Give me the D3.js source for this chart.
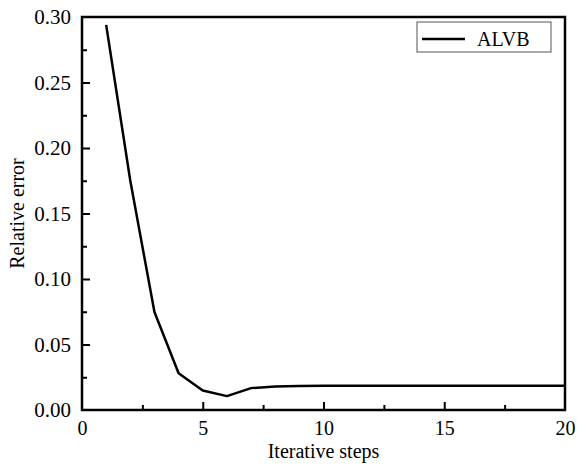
<!DOCTYPE html>
<html>
<head>
<meta charset="utf-8">
<script src="https://cdn.jsdelivr.net/npm/d3@7"></script>
<style>
  body { margin: 0; background: #fff; }
  svg text { font-family: "Liberation Serif", "Times New Roman", serif; fill: #000; }
</style>
</head>
<body>
<div id="chart"></div>
<script>
// values
var steps = [1, 2, 3, 4, 5, 6, 7, 8, 9, 10, 11, 12, 13, 14, 15, 16, 17, 18, 19, 20];
var relError = [0.294, 0.175, 0.0748, 0.0281, 0.0149, 0.0106, 0.0167, 0.0180, 0.0184, 0.0186,
  0.0186, 0.0186, 0.0186, 0.0186, 0.0186, 0.0186, 0.0186, 0.0186, 0.0186, 0.0186];
var xTicks = [0, 5, 10, 15, 20];
var yTicks = [0.00, 0.05, 0.10, 0.15, 0.20, 0.25, 0.30];
var seriesName = "ALVB";

var serif = "Liberation Serif, Times New Roman, serif";
var svgWidth = 577, svgHeight = 467;
var margin = {top: 17, right: 12, bottom: 57, left: 82};
var width = svgWidth - margin.left - margin.right;
var height = svgHeight - margin.top - margin.bottom;

var svg = d3.select("#chart").append("svg")
  .attr("width", svgWidth)
  .attr("height", svgHeight)
  .attr("font-family", serif);

var chartGroup = svg.append("g")
  .attr("transform", `translate(${margin.left}, ${margin.top})`);

var x = d3.scaleLinear().domain([0, 20]).range([0, width]);
var y = d3.scaleLinear().domain([0, 0.30]).range([height, 0]);

// minor ticks (inward)
var xMinor = d3.range(0, 20.01, 2.5).filter(d => d % 5 !== 0);
var yMinor = d3.range(0, 0.301, 0.025).filter(d => Math.round(d * 1000) % 50 !== 0);

var bottomAxis = d3.axisBottom(x).tickValues(xTicks).tickSize(-8).tickPadding(11)
  .tickFormat(d3.format("d"));
var leftAxis = d3.axisLeft(y).tickValues(yTicks).tickSize(-8).tickPadding(11)
  .tickFormat(d3.format(".2f"));

var xAxis = chartGroup.append("g")
  .attr("transform", `translate(0, ${height})`)
  .call(bottomAxis)
  .attr("font-family", serif)
  .attr("font-size", 20);
xAxis.selectAll(".tick")
  .filter(d => d === 0 || d === 20)
  .select("line").remove();

var yAxis = chartGroup.append("g")
  .call(leftAxis)
  .attr("font-family", serif)
  .attr("font-size", 21);
yAxis.selectAll(".tick")
  .filter(d => d === 0 || d === 0.30)
  .select("line").remove();

chartGroup.append("g")
  .attr("transform", `translate(0, ${height})`)
  .call(d3.axisBottom(x).tickValues(xMinor).tickSize(-5).tickFormat(""))
  .select(".domain").remove();
chartGroup.append("g")
  .call(d3.axisLeft(y).tickValues(yMinor).tickSize(-5).tickFormat(""))
  .select(".domain").remove();

chartGroup.selectAll(".domain").remove();
chartGroup.selectAll(".tick line").attr("stroke", "#000").attr("stroke-width", 2);
chartGroup.selectAll(".tick text").attr("fill", "#000");

// frame
chartGroup.append("rect")
  .attr("width", width)
  .attr("height", height)
  .attr("fill", "none")
  .attr("stroke", "#000")
  .attr("stroke-width", 2.5);

var line = d3.line()
  .x((d, i) => x(steps[i]))
  .y(d => y(d));

chartGroup.append("path")
  .datum(relError)
  .attr("d", line)
  .attr("fill", "none")
  .attr("stroke", "#000")
  .attr("stroke-width", 2.5)
  .attr("stroke-linejoin", "round");

// legend
var legend = svg.append("g").attr("transform", "translate(417, 22)");
legend.append("rect")
  .attr("width", 134)
  .attr("height", 30)
  .attr("fill", "#fff")
  .attr("stroke", "#555")
  .attr("stroke-width", 1);
legend.append("line")
  .attr("x1", 5).attr("x2", 48)
  .attr("y1", 17).attr("y2", 17)
  .attr("stroke", "#000")
  .attr("stroke-width", 2.5);
legend.append("text")
  .attr("x", 60)
  .attr("y", 24)
  .style("font-size", "20px")
  .text(seriesName);

// axis titles
svg.append("text")
  .attr("x", margin.left + width / 2)
  .attr("y", 458)
  .attr("text-anchor", "middle")
  .style("font-size", "20px")
  .text("Iterative steps");

svg.append("text")
  .attr("transform", `translate(24, ${margin.top + height / 2}) rotate(-90)`)
  .attr("text-anchor", "middle")
  .style("font-size", "20px")
  .text("Relative error");
</script>
</body>
</html>
